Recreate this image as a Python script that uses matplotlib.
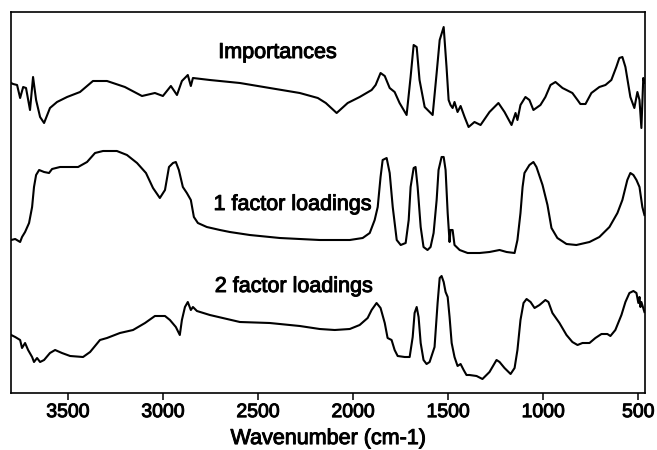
import matplotlib
matplotlib.use("Agg")
from matplotlib import pyplot as plt
from matplotlib import patheffects

# numeros de onda (cm-1) e intensidades (unidades arbitrarias, ja com deslocamento)
wn_imp = [3799, 3789, 3768, 3752, 3736, 3721, 3700, 3684, 3668, 3647, 3626, 3595, 3558, 3505,
          3437, 3369, 3295, 3201, 3111, 3043, 3001, 2959, 2927, 2901, 2870, 2854, 2843, 2754,
          2596, 2439, 2281, 2186, 2144, 2087, 2029, 1966, 1903, 1882, 1856, 1834, 1808, 1782,
          1756, 1719, 1698, 1682, 1666, 1651, 1624, 1582, 1561, 1545, 1524, 1509, 1498, 1488,
          1477, 1467, 1451, 1435, 1414, 1393, 1362, 1330, 1283, 1236, 1204, 1167, 1146, 1136,
          1120, 1094, 1073, 1052, 1015, 989, 962, 936, 899, 878, 847, 820, 805, 778, 747, 705,
          673, 642, 616, 600, 584, 568, 542, 521, 505, 494, 484, 474, 468]
imp = [310, 309, 308, 295, 306, 305, 283, 316, 293, 276, 270, 285, 291, 296,
       301, 312, 312, 306, 297, 300, 297, 307, 298, 312, 318, 307, 315, 313,
       310, 305, 300, 295, 290, 280, 290, 296, 303, 308, 320, 317, 305, 301,
       290, 278, 316, 348, 346, 313, 286, 278, 320, 353, 366, 326, 293, 288,
       285, 291, 281, 287, 276, 266, 271, 268, 281, 290, 281, 268, 280, 273,
       288, 296, 293, 283, 288, 296, 308, 311, 305, 303, 300, 293, 289, 289, 300, 306,
       308, 313, 326, 335, 336, 326, 296, 285, 301, 293, 265, 315, 310]

wn_f1 = [3799, 3778, 3752, 3742, 3726, 3705, 3689, 3679, 3668, 3652, 3626, 3600, 3584, 3542,
         3447, 3400, 3358, 3316, 3243, 3190, 3137, 3090, 3053, 3017, 2990, 2969, 2948, 2933,
         2917, 2896, 2875, 2854, 2838, 2817, 2770, 2701, 2649, 2544, 2386, 2176, 2018, 1950,
         1913, 1887, 1871, 1856, 1845, 1824, 1808, 1792, 1771, 1750, 1724, 1708, 1698, 1682,
         1672, 1661, 1645, 1630, 1609, 1593, 1577, 1561, 1551, 1535, 1524, 1514, 1503, 1493,
         1488, 1477, 1467, 1440, 1398, 1335, 1283, 1230, 1193, 1151, 1136, 1120, 1109, 1099,
         1073, 1052, 1036, 1004, 978, 957, 926, 878, 826, 757, 705, 652, 610, 584, 558, 542,
         526, 510, 494, 479, 468]
f1 = [153, 154, 151, 156, 161, 170, 186, 206, 218, 223, 221, 220, 224, 226,
      226, 231, 240, 242, 242, 238, 230, 220, 205, 195, 203, 226, 230, 231,
      223, 206, 200, 193, 176, 170, 166, 163, 161, 158, 155, 153, 153, 155,
      160, 173, 186, 216, 233, 235, 220, 186, 153, 148, 150, 173, 206, 225,
      226, 206, 166, 146, 143, 146, 160, 193, 223, 236, 236, 223, 180, 151,
      163, 163, 148, 143, 140, 140, 141, 143, 141, 140, 153, 180, 206, 220,
      228, 231, 226, 208, 188, 165, 155, 149, 148, 151, 156, 166, 180, 193, 213, 220,
      218, 213, 206, 186, 178]

wn_f2 = [3799, 3778, 3752, 3742, 3726, 3710, 3689, 3679, 3663, 3647, 3626, 3595, 3568, 3532,
         3489, 3421, 3384, 3332, 3295, 3227, 3158, 3095, 3043, 2990, 2964, 2933, 2912, 2901,
         2885, 2870, 2854, 2843, 2822, 2754, 2596, 2439, 2281, 2176, 2097, 2018, 1966, 1924,
         1903, 1877, 1856, 1834, 1819, 1798, 1782, 1766, 1729, 1703, 1687, 1677, 1666, 1656,
         1645, 1630, 1614, 1598, 1572, 1556, 1545, 1535, 1524, 1514, 1503, 1493, 1482, 1467,
         1451, 1435, 1419, 1404, 1388, 1351, 1320, 1283, 1246, 1230, 1204, 1172, 1151, 1136,
         1120, 1104, 1088, 1067, 1046, 1020, 989, 973, 952, 915, 878, 847, 820, 794, 757,
         726, 694, 663, 647, 621, 589, 568, 547, 526, 510, 500, 494, 489, 484, 468]
f2 = [58, 56, 53, 45, 50, 43, 36, 31, 35, 31, 33, 40, 43, 40,
      37, 36, 41, 53, 55, 60, 63, 70, 77, 77, 73, 66, 58, 73,
      86, 91, 83, 86, 82, 78, 71, 70, 67, 64, 63, 64, 68, 75,
      83, 90, 85, 70, 55, 53, 43, 37, 36, 36, 56, 80, 86, 76,
      50, 33, 29, 31, 46, 90, 115, 117, 111, 101, 96, 76, 50, 36,
      27, 29, 23, 18, 18, 17, 14, 21, 33, 31, 25, 19, 25, 43,
      73, 90, 94, 91, 85, 88, 93, 91, 80, 70, 58, 51, 48, 50, 50,
      55, 59, 59, 57, 63, 78, 91, 100, 102, 100, 90, 96, 86, 91, 81]

labels = ["Importances", "1 factor loadings", "2 factor loadings"]
label_x = [2399, 2320, 2313]
label_y = [335, 183, 101]

plt.rcParams['font.family'] = ['Liberation Sans', 'DejaVu Sans']

# engrossa um pouco o texto, como no scan original
grosso = [patheffects.withStroke(linewidth=0.7, foreground="black")]

fig = plt.figure(figsize=(6.57, 4.5), dpi=100)
ax = fig.add_axes([11 / 657, 1 - 393 / 450, 634 / 657, 381 / 450])

for wn, y in [(wn_imp, imp), (wn_f1, f1), (wn_f2, f2)]:
    ax.plot(wn, y, color="black", lw=1.5)

for txt, x, y in zip(labels, label_x, label_y):
    ax.text(x, y, txt, ha="center", va="baseline", fontsize=15.5, path_effects=grosso)

ax.set_xlim(3800, 465)
ax.set_ylim(0, 381)
ax.set_xticks([3500, 3000, 2500, 2000, 1500, 1000, 500])
ax.set_yticks([])
ax.tick_params(axis="x", direction="out", length=5, width=1.1, labelsize=14, pad=3)
for lbl in ax.get_xticklabels():
    lbl.set_path_effects(grosso)
ax.set_xlabel("Wavenumber (cm-1)", fontsize=15.5, labelpad=5, path_effects=grosso)
for s in ax.spines.values():
    s.set_linewidth(1.2)

fig.savefig("out.png", dpi=100)
